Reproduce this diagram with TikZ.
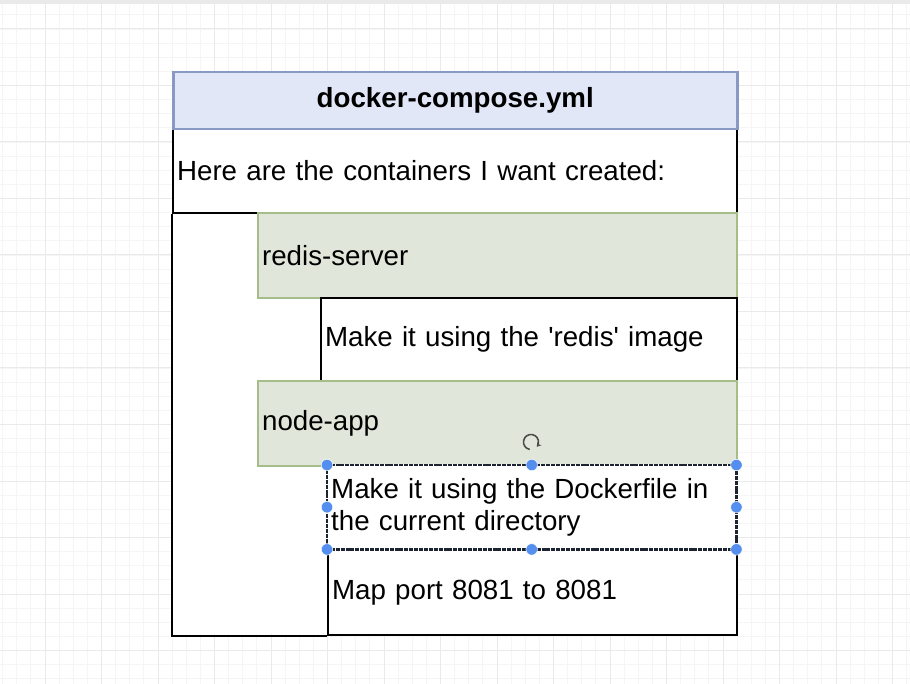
\documentclass[tikz,border=0pt]{standalone}
\usepackage{fontspec}
\setmainfont{Liberation Sans}
\newfontfamily\plainsans{Liberation Sans}
\usetikzlibrary{arrows.meta}
\definecolor{gridmin}{RGB}{245,245,245}
\definecolor{gridmaj}{RGB}{234,234,234}
\definecolor{titlefill}{RGB}{226,231,248}
\definecolor{titledraw}{RGB}{138,153,196}
\definecolor{greenfill}{RGB}{224,231,218}
\definecolor{greendraw}{RGB}{166,189,137}
\definecolor{handleblue}{RGB}{84,143,240}
\definecolor{selline}{RGB}{30,35,50}
\tikzset{
  lbl/.style={font=\plainsans\fontsize{27.7}{32}\selectfont},
  boxbase/.style={rectangle, anchor=north west, inner xsep=4pt, inner ysep=0pt, align=left, lbl},
  plainbox/.style={boxbase, draw=black, fill=white, line width=2.2pt},
  greenbox/.style={boxbase, draw=greendraw, fill=greenfill, line width=2.2pt},
  selbox/.style={boxbase, fill=white},
  titlebox/.style={boxbase, align=center, draw=titledraw, fill=titlefill, line width=2.5pt, font=\plainsans\fontsize{27.7}{32}\selectfont\bfseries},
  handle/.style={circle, fill=handleblue, draw=white, line width=0.5pt, minimum size=11.5pt, inner sep=0pt},
}
\begin{document}
\begin{tikzpicture}[x=1pt,y=-1pt]
\useasboundingbox (0,0) rectangle (910,684);
\fill[white] (0,0) rectangle (910,684);
\begin{scope}
\clip (0,4) rectangle (910,684);
\foreach \i in {-4,...,64} {\draw[gridmin, line width=0.8pt] ({45+14.125*\i},0) -- ++(0,684);}
\foreach \i in {-3,...,49} {\draw[gridmin, line width=0.8pt] (0,{29+14.125*\i}) -- ++(910,0);}
\foreach \i in {-1,...,16} {\draw[gridmaj, line width=1pt] ({45+56.5*\i},0) -- ++(0,684);}
\foreach \i in {-1,...,12} {\draw[gridmaj, line width=1pt] (0,{29+56.5*\i}) -- ++(910,0);}
\end{scope}
\fill[gridmaj] (0,0) rectangle (910,4);
% white backing of the whole container
\fill[white] (172,128) rectangle (736,634);
% boxes
\node[plainbox, text width=556pt, minimum height=84pt] (here) at (172,128) {Here are the containers I want created:};
\node[greenbox, text width=471pt, minimum height=85pt] (redis) at (257,212) {redis-server};
\node[plainbox, text width=408pt, minimum height=83pt] (redisimg) at (320,297) {Make it using the 'redis' image};
\node[greenbox, text width=471pt, minimum height=85pt] (nodeapp) at (257,380) {node-app};
\node[plainbox, text width=401pt, minimum height=85pt] (map) at (327,549) {Map port 8081 to 8081};
\node[selbox, text width=401pt, minimum height=84pt] (dock) at (327,465) {Make it using the Dockerfile in\\the current directory};
\draw[white, line width=2.6pt] (dock.north west) rectangle (dock.south east);
\draw[selline, line width=2.2pt, dash pattern=on 4pt off 0.9pt] (dock.north west) rectangle (dock.south east);
% container frame
\draw[black, line width=2.2pt] (here.south west) |- (map.south west);
\node[titlebox, text width=556pt, minimum height=57pt] (title) at (172,71) {docker-compose.yml};
% selection handles
\foreach \a/\n in {north west/h1, north/h2, north east/h3, west/h4, east/h5, south west/h6, south/h7, south east/h8}
  {\node[handle] (\n) at (dock.\a) {};}
\coordinate (rot) at (531,442);
\draw[black!70, line width=1.6pt, -{Stealth[length=4.5pt,width=5.5pt]}] (rot) ++(100:7.5) arc[start angle=100, end angle=400, radius=7.5];
\end{tikzpicture}
\end{document}
